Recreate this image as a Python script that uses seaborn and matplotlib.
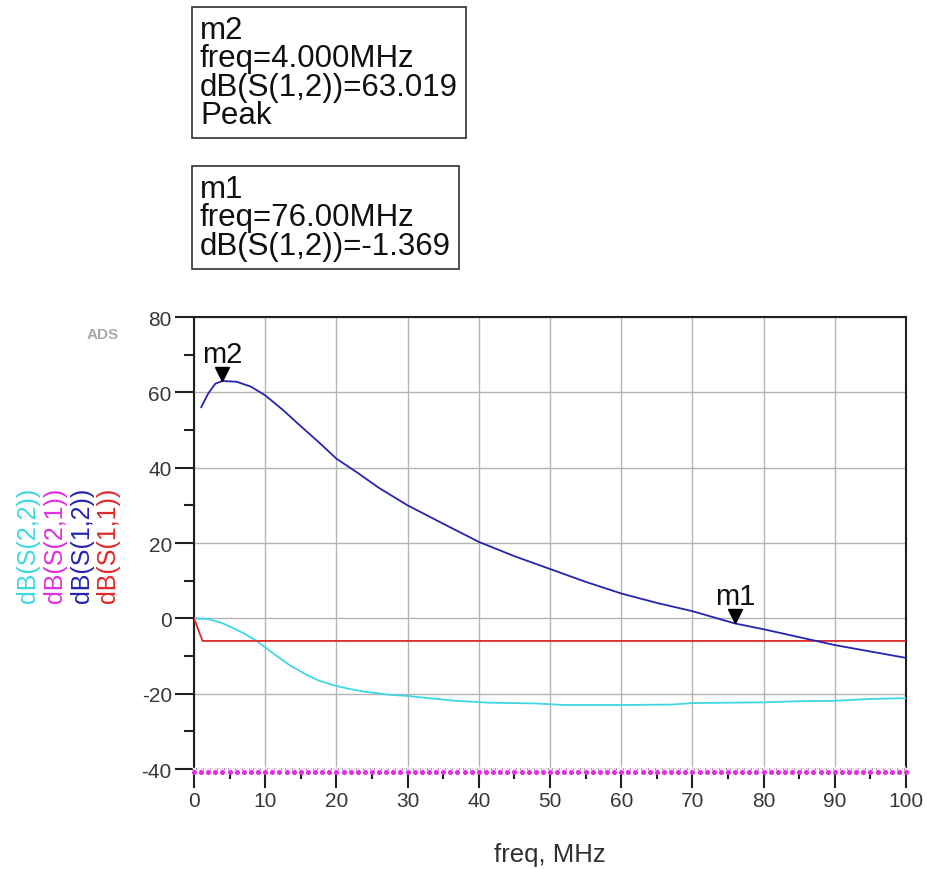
import numpy as np
import pandas as pd
import matplotlib
matplotlib.use("Agg")
import matplotlib.pyplot as plt
from matplotlib.transforms import offset_copy
import seaborn as sns

# S-parameter sweep, values
s12_freq = [1, 2, 3, 4, 6, 8, 10, 12.5, 15, 17.5, 20, 23, 26, 30, 34.5, 40,
            45, 50, 55, 60, 65, 70, 76, 80, 85, 90, 95, 100]
s12_db = [56.0, 59.7, 62.3, 63.02, 62.8, 61.5, 59.2, 55.3, 51.0, 46.8, 42.4,
          38.6, 34.6, 30.0, 25.6, 20.3, 16.5, 13.1, 9.7, 6.6, 4.1, 1.9, -1.37,
          -2.9, -5.0, -7.1, -8.8, -10.5]

s11_freq = [0, 1.2, 100]
s11_db = [0.0, -6.0, -6.0]

s22_freq = [0, 2, 4, 5.5, 7, 8.8, 10.2, 12, 13.4, 15.8, 17.5, 19.5, 21.5, 23.7,
            27.5, 30, 33, 36.8, 41.5, 48, 52, 60, 67, 70, 80, 85, 90, 95, 100]
s22_db = [0.0, -0.2, -1.3, -2.6, -4.0, -6.0, -8.0, -10.5, -12.4, -15.0, -16.5,
          -17.7, -18.6, -19.4, -20.3, -20.6, -21.2, -21.9, -22.4, -22.6, -23.0,
          -23.0, -22.9, -22.5, -22.3, -22.0, -21.9, -21.4, -21.2]

# S(2,1) is far below the axis floor, ADS pins it to the bottom edge
s21_freq = np.arange(0, 100.5, 0.5)
s21_db = np.full(len(s21_freq), -40.0)

markers = {"m2": (4.0, 63.019), "m1": (76.0, -1.369)}
m2_text = "m2\nfreq=4.000MHz\ndB(S(1,2))=63.019\nPeak"
m1_text = "m1\nfreq=76.00MHz\ndB(S(1,2))=-1.369"

col_s11 = "#e02828"
col_s12 = "#2424b0"
col_s21 = "#e030e0"
col_s22 = "#40d8e0"

sns.set_style("white")
plt.rcParams["font.family"] = ["Liberation Sans", "DejaVu Sans"]
plt.rcParams["axes.unicode_minus"] = False

W, H = 927, 870
fig = plt.figure(figsize=(W / 100, H / 100), dpi=100)
ax = fig.add_axes([194 / W, 1 - 770 / H, (906 - 194) / W, (770 - 318) / H])

df12 = pd.DataFrame({"freq": s12_freq, "db": s12_db})
df11 = pd.DataFrame({"freq": s11_freq, "db": s11_db})
df22 = pd.DataFrame({"freq": s22_freq, "db": s22_db})
df21 = pd.DataFrame({"freq": s21_freq, "db": s21_db})

sns.lineplot(data=df22, x="freq", y="db", color=col_s22, lw=1.3, ax=ax, zorder=3)
sns.lineplot(data=df11, x="freq", y="db", color=col_s11, lw=1.3, ax=ax, zorder=4)
sns.lineplot(data=df12, x="freq", y="db", color=col_s12, lw=1.3, ax=ax, zorder=5)
sns.lineplot(data=df21, x="freq", y="db", color="#d060e0", lw=0.8, ax=ax,
             marker="x", markersize=5, markeredgewidth=0.9, zorder=6, clip_on=False)
dots = df21.iloc[::2]
ax.scatter(dots["freq"], dots["db"], s=7, color=col_s21, zorder=7, clip_on=False,
           transform=offset_copy(ax.transData, fig, y=-3, units="dots"))

ax.set_xlim(0, 100)
ax.set_ylim(-40, 80)
ax.set_xticks(range(0, 101, 10))
ax.set_xticks(range(5, 100, 10), minor=True)
ax.set_yticks(range(-40, 81, 20))
ax.set_yticks(range(-30, 80, 20), minor=True)
ax.grid(True, which="major", color="#b4b4b4", lw=1.0)
ax.tick_params(which="major", direction="out", length=14, width=1.5,
               color="#202020", labelsize=15, labelcolor="#383838", pad=2,
               bottom=True, left=True)
ax.tick_params(which="minor", direction="out", length=7, width=1.5,
               color="#202020", bottom=True, left=True)
for sp in ax.spines.values():
    sp.set_color("#202020")
    sp.set_linewidth(1.5)
ax.set_xlabel("")
ax.set_ylabel("")

# marker triangles and labels
tri = offset_copy(ax.transData, fig, y=7, units="dots")
lab = offset_copy(ax.transData, fig, y=27, units="dots")
for name, (mf, mv) in markers.items():
    ax.plot([mf], [mv], marker="v", color="black", markersize=10,
            transform=tri, zorder=8)
    ax.text(mf, mv, name, transform=lab, ha="center", va="center",
            fontsize=21, color="#101010", zorder=8)

# marker readout boxes
box = dict(boxstyle="square,pad=0.25", fc="white", ec="#303030", lw=1.2)
fig.text(200 / W, 1 - 16 / H, m2_text, ha="left", va="top", fontsize=22.5,
         linespacing=0.93, color="#101010", bbox=box)
fig.text(200 / W, 1 - 175 / H, m1_text, ha="left", va="top", fontsize=22.5,
         linespacing=0.93, color="#101010", bbox=box)

# stacked trace names on the left
for xp, txt, c in [(28, "dB(S(2,2))", col_s22), (55, "dB(S(2,1))", col_s21),
                   (82, "dB(S(1,2))", col_s12), (108, "dB(S(1,1))", col_s11)]:
    fig.text(xp / W, 1 - 545 / H, txt, rotation=90, ha="center", va="center",
             fontsize=18, color=c)

fig.text(550 / W, 1 - 855 / H, "freq, MHz", ha="center", va="center",
         fontsize=18.5, color="#303030")
fig.text(103 / W, 1 - 335 / H, "ADS", ha="center", va="center",
         fontsize=11, color="#a8a8a8", fontweight="bold")

fig.savefig("out.png", dpi=100)
